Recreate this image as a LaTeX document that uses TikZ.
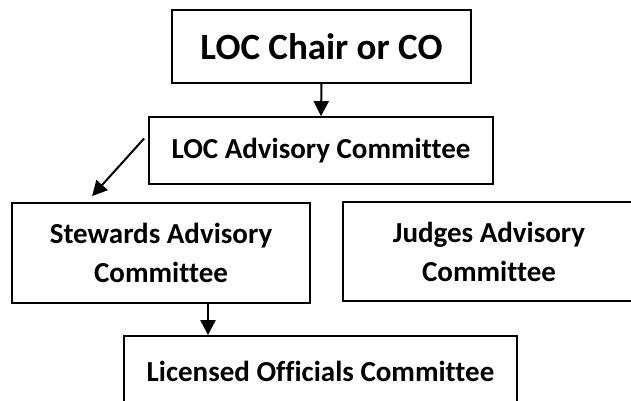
\documentclass[tikz,border=0pt]{standalone}
\usepackage{fontspec}
\setmainfont{Carlito}[Ligatures={NoCommon}]
\usetikzlibrary{arrows.meta}

\begin{document}
\begin{tikzpicture}[
  x=1pt, y=1pt,
  box/.style={draw, line width=1.8pt, align=center, inner sep=0pt, font=\bfseries\fontsize{29}{39}\selectfont},
  title box/.style={box, font=\bfseries\fontsize{37}{44}\selectfont},
  arr/.style={line width=2pt, -{Triangle[length=15pt, width=15pt]}}
]
  \useasboundingbox (0,0) rectangle (631,400);
  \clip (0,0) rectangle (631,400);

  % Top node
  \node[title box, minimum width=299, minimum height=73] (chair) at (321.5,353.5) {LOC Chair or CO};
  \node[box, minimum width=344, minimum height=67] (locadv) at (321,249.5) {LOC Advisory Committee};
  \node[box, minimum width=298, minimum height=100] (stewards) at (161,147) {Stewards Advisory\\Committee};
  \node[box, minimum width=292, minimum height=99] (judges) at (489,148.5) {Judges Advisory\\Committee};
  \node[box, minimum width=393, minimum height=70] (licensed) at (320.5,29) {Licensed Officials Committee};

  \coordinate (advout) at ([shift={(-4,12)}]locadv.west);
  \coordinate (stewin) at ([shift={(81,6)}]stewards.north west);

  \draw[arr] (chair.south) -- (locadv.north);
  \draw[arr] (advout) -- (stewin);
  \draw[arr] ([xshift=47]stewards.south) -- ([xshift=47]stewards.south |- licensed.north);

\end{tikzpicture}
\end{document}
